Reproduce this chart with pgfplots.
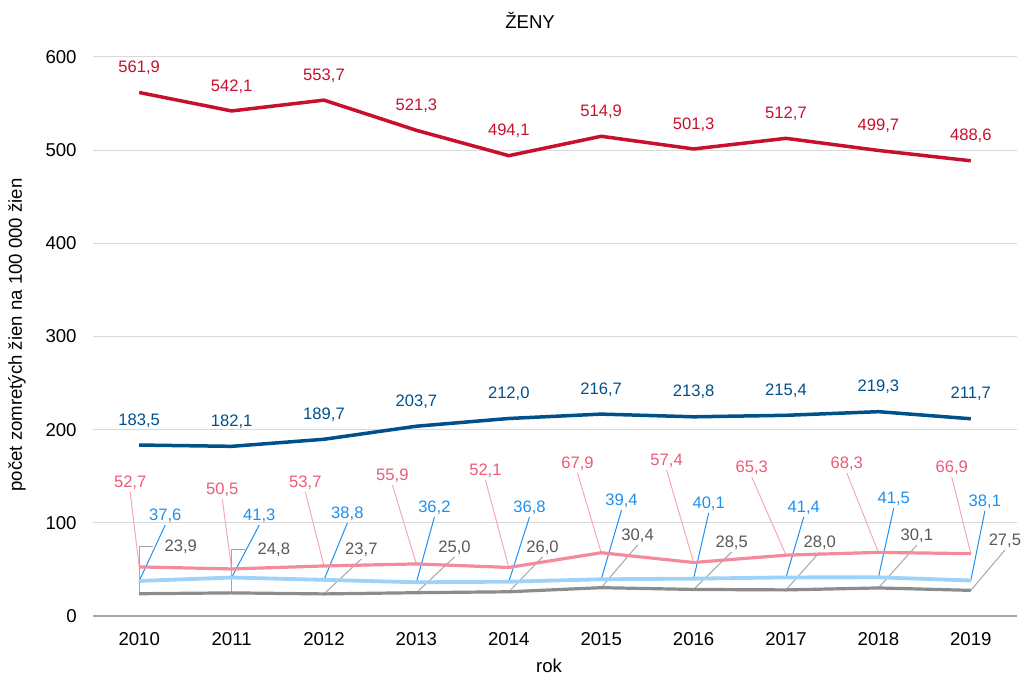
\documentclass[border=0pt]{standalone}
\usepackage{fontspec}
\setmainfont{Liberation Sans}
\usepackage{pgfplots}
\pgfplotsset{compat=1.18}

\definecolor{cred}{RGB}{200,16,46}
\definecolor{cdblue}{RGB}{0,80,140}
\definecolor{cpinkline}{RGB}{244,138,158}
\definecolor{cpinktext}{RGB}{238,90,120}
\definecolor{cpinklead}{RGB}{247,168,181}
\definecolor{clbline}{RGB}{157,211,249}
\definecolor{clbtext}{RGB}{30,144,240}
\definecolor{cgrayline}{RGB}{140,140,140}
\definecolor{cgraytext}{RGB}{89,89,89}
\definecolor{cgraylead}{RGB}{166,166,166}
\definecolor{cgrid}{RGB}{217,217,217}

\newcommand{\lfont}{\fontsize{8.3}{10}\selectfont}
\newcommand{\tfont}{\fontsize{9.3}{11}\selectfont}
\newcommand{\fmtlabel}{\pgfmathprintnumber[fixed,fixed zerofill,precision=1,use comma,assume math mode=true]{\pgfplotspointmeta}}

\begin{document}
\begin{tikzpicture}
\begin{axis}[
  width=462pt, height=279.5pt, scale only axis,
  xmin=-0.5, xmax=9.5, ymin=0, ymax=600,
  xtick={0,1,2,3,4,5,6,7,8,9},
  xticklabels={2010,2011,2012,2013,2014,2015,2016,2017,2018,2019},
  ytick={0,100,200,300,400,500,600},
  ymajorgrids, grid style={cgrid, line width=0.5pt},
  axis lines*=left,
  y axis line style={draw=none},
  x axis line style={draw=cgraylead, line width=0.6pt},
  major tick length=0pt, tick style={draw=none},
  /pgf/number format/assume math mode=true,
  yticklabel style={font=\tfont, anchor=east, inner sep=0pt, xshift=-8pt},
  xticklabel style={font=\tfont, anchor=north, inner sep=0pt, yshift=-8pt},
  clip=false,
  every axis plot/.append style={mark=none, line join=round},
]
% bounding box
\path (rel axis cs:-0.10065,-0.1181) rectangle (rel axis cs:1.01082,1.10197);
% title and labels
\node[font=\tfont] at (rel axis cs:0.473,1.066) {ŽENY};
\node[font=\tfont] at (rel axis cs:0.4935,-0.0894) {rok};
\node[font=\tfont, rotate=90] at (rel axis cs:-0.0823,0.5027) {počet zomretých žien na 100 000 žien};

% leader lines and labels: pink
\begin{scope}[every node/.style={font=\lfont, text=cpinktext, anchor=south, inner sep=1pt}]
\draw[cpinklead, line width=0.5pt] (axis cs:0,52.7) -- (axis cs:-0.0975,133.1) node {52,7};
\draw[cpinklead, line width=0.5pt] (axis cs:1,50.5) -- (axis cs:0.899,125.6) node {50,5};
\draw[cpinklead, line width=0.5pt] (axis cs:2,53.7) -- (axis cs:1.798,133.1) node {53,7};
\draw[cpinklead, line width=0.5pt] (axis cs:3,55.9) -- (axis cs:2.740,140.6) node {55,9};
\draw[cpinklead, line width=0.5pt] (axis cs:4,52.1) -- (axis cs:3.747,146.0) node {52,1};
\draw[cpinklead, line width=0.5pt] (axis cs:5,67.9) -- (axis cs:4.744,153.5) node {67,9};
\draw[cpinklead, line width=0.5pt] (axis cs:6,57.4) -- (axis cs:5.708,156.7) node {57,4};
\draw[cpinklead, line width=0.5pt] (axis cs:7,65.3) -- (axis cs:6.629,149.2) node {65,3};
\draw[cpinklead, line width=0.5pt] (axis cs:8,68.3) -- (axis cs:7.658,153.5) node {68,3};
\draw[cpinklead, line width=0.5pt] (axis cs:9,66.9) -- (axis cs:8.794,149.2) node {66,9};
\end{scope}
% light blue
\begin{scope}[every node/.style={font=\lfont, text=clbtext, anchor=south, inner sep=1pt}]
\draw[clbtext, line width=0.5pt] (axis cs:0,37.6) -- (axis cs:0.282,97.7) node {37,6};
\draw[clbtext, line width=0.5pt] (axis cs:1,41.3) -- (axis cs:1.300,97.7) node {41,3};
\draw[clbtext, line width=0.5pt] (axis cs:2,38.8) -- (axis cs:2.253,99.8) node {38,8};
\draw[clbtext, line width=0.5pt] (axis cs:3,36.2) -- (axis cs:3.195,106.3) node {36,2};
\draw[clbtext, line width=0.5pt] (axis cs:4,36.8) -- (axis cs:4.224,106.3) node {36,8};
\draw[clbtext, line width=0.5pt] (axis cs:5,39.4) -- (axis cs:5.220,113.8) node {39,4};
\draw[clbtext, line width=0.5pt] (axis cs:6,40.1) -- (axis cs:6.163,110.6) node {40,1};
\draw[clbtext, line width=0.5pt] (axis cs:7,41.4) -- (axis cs:7.192,106.3) node {41,4};
\draw[clbtext, line width=0.5pt] (axis cs:8,41.5) -- (axis cs:8.166,115.9) node {41,5};
\draw[clbtext, line width=0.5pt] (axis cs:9,38.1) -- (axis cs:9.152,112.7) node {38,1};
\end{scope}
% gray
\begin{scope}[every node/.style={font=\lfont, text=cgraytext, anchor=south, inner sep=1pt}]
\draw[cgraylead, line width=0.5pt] (axis cs:0,23.9) |- (axis cs:0.152,75.1);
\node[anchor=west, inner sep=0pt] at (axis cs:0.271,74.1) {23,9};
\draw[cgraylead, line width=0.5pt] (axis cs:1,24.8) |- (axis cs:1.148,71.9);
\node[anchor=west, inner sep=0pt] at (axis cs:1.278,70.8) {24,8};
\draw[cgraylead, line width=0.5pt] (axis cs:2,23.7) -- (axis cs:2.404,61.2) node {23,7};
\draw[cgraylead, line width=0.5pt] (axis cs:3,25.0) -- (axis cs:3.412,63.3) node {25,0};
\draw[cgraylead, line width=0.5pt] (axis cs:4,26.0) -- (axis cs:4.365,63.3) node {26,0};
\draw[cgraylead, line width=0.5pt] (axis cs:5,30.4) -- (axis cs:5.394,76.2) node {30,4};
\draw[cgraylead, line width=0.5pt] (axis cs:6,28.5) -- (axis cs:6.412,68.7) node {28,5};
\draw[cgraylead, line width=0.5pt] (axis cs:7,28.0) -- (axis cs:7.365,68.7) node {28,0};
\draw[cgraylead, line width=0.5pt] (axis cs:8,30.1) -- (axis cs:8.416,76.2) node {30,1};
\draw[cgraylead, line width=0.5pt] (axis cs:9,27.5) -- (axis cs:9.369,70.8) node {27,5};
\end{scope}

% series
\addplot[cred, line width=1.75pt, nodes near coords={\fmtlabel},
  every node near coord/.append style={text=cred, font=\lfont, anchor=south, inner sep=1pt, yshift=7pt}]
  coordinates {(0,561.9) (1,542.1) (2,553.7) (3,521.3) (4,494.1) (5,514.9) (6,501.3) (7,512.7) (8,499.7) (9,488.6)};
\addplot[cdblue, line width=1.75pt, nodes near coords={\fmtlabel},
  every node near coord/.append style={text=cdblue, font=\lfont, anchor=south, inner sep=1pt, yshift=7pt}]
  coordinates {(0,183.5) (1,182.1) (2,189.7) (3,203.7) (4,212.0) (5,216.7) (6,213.8) (7,215.4) (8,219.3) (9,211.7)};
\addplot[cpinkline, line width=1.6pt]
  coordinates {(0,52.7) (1,50.5) (2,53.7) (3,55.9) (4,52.1) (5,67.9) (6,57.4) (7,65.3) (8,68.3) (9,66.9)};
\addplot[clbline, line width=1.9pt]
  coordinates {(0,37.6) (1,41.3) (2,38.8) (3,36.2) (4,36.8) (5,39.4) (6,40.1) (7,41.4) (8,41.5) (9,38.1)};
\addplot[cgrayline, line width=1.6pt]
  coordinates {(0,23.9) (1,24.8) (2,23.7) (3,25.0) (4,26.0) (5,30.4) (6,28.5) (7,28.0) (8,30.1) (9,27.5)};
\end{axis}
\end{tikzpicture}
\end{document}
